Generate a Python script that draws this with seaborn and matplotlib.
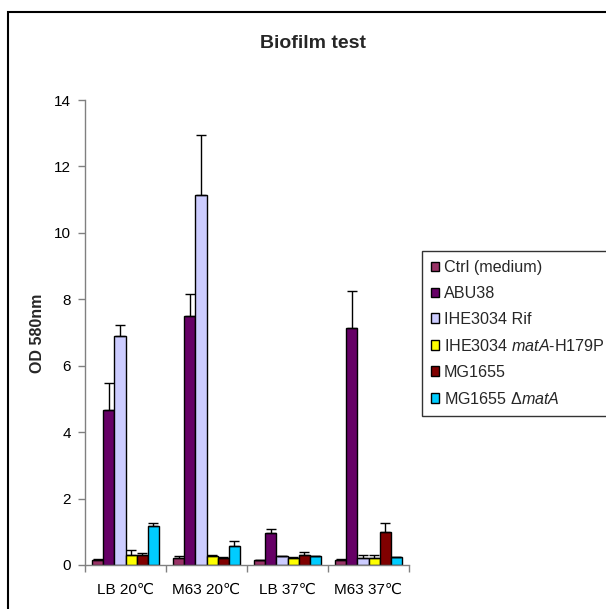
import matplotlib
matplotlib.use("Agg")
import matplotlib.pyplot as plt
import matplotlib.patches as mpatches
import seaborn as sns
import pandas as pd
import numpy as np

conditions = ["LB 20\u2103", "M63 20\u2103", "LB 37\u2103", "M63 37\u2103"]
strains = ["Ctrl (medium)", "ABU38", "IHE3034 Rif",
           r"IHE3034 $\it{matA}$-H179P", "MG1655", r"MG1655 $\it{\Delta matA}$"]
colors = ["#993366", "#660066", "#CCCCFF", "#FFFF00", "#800000", "#00CCFF"]

ctrl_vals = [0.15, 0.20, 0.14, 0.15]
abu_vals = [4.68, 7.50, 0.95, 7.15]
ihe_vals = [6.88, 11.13, 0.26, 0.22]
ihemut_vals = [0.30, 0.28, 0.22, 0.22]
mg_vals = [0.30, 0.21, 0.30, 1.00]
mgdel_vals = [1.18, 0.57, 0.27, 0.23]

ctrl_err = [0.04, 0.06, 0.02, 0.04]
abu_err = [0.80, 0.65, 0.12, 1.10]
ihe_err = [0.36, 1.82, 0.01, 0.09]
ihemut_err = [0.14, 0.02, 0.03, 0.09]
mg_err = [0.06, 0.02, 0.08, 0.26]
mgdel_err = [0.07, 0.14, 0.00, 0.00]

yticks = [0, 2, 4, 6, 8, 10, 12, 14]

sns.set_theme(style="white")
plt.rcParams["font.family"] = ["Liberation Sans", "DejaVu Sans"]
plt.rcParams["mathtext.fontset"] = "custom"
plt.rcParams["mathtext.rm"] = "Liberation Sans"
plt.rcParams["mathtext.it"] = "Liberation Sans:italic"
plt.rcParams["mathtext.bf"] = "Liberation Sans:bold"

all_vals = [ctrl_vals, abu_vals, ihe_vals, ihemut_vals, mg_vals, mgdel_vals]
all_errs = [ctrl_err, abu_err, ihe_err, ihemut_err, mg_err, mgdel_err]
rows = []
for s, vals, errs in zip(strains, all_vals, all_errs):
    for c, v, e in zip(conditions, vals, errs):
        rows.append({"Condition": c, "Strain": s, "OD": v, "err": e})
df = pd.DataFrame(rows)

W, H = 606, 609
fig = plt.figure(figsize=(W / 100, H / 100), dpi=100)
ax = fig.add_axes([85 / W, 1 - 565 / H, (409 - 85) / W, (565 - 100) / H])

sns.barplot(data=df, x="Condition", y="OD", hue="Strain", order=conditions,
            hue_order=strains, palette=colors, errorbar=None, width=0.815,
            edgecolor="black", linewidth=1, saturation=1, ax=ax)

# error bars on top of library-placed bars
for container, s in zip(ax.containers, strains):
    sub = df[df["Strain"] == s].set_index("Condition").loc[conditions]
    xs = [p.get_x() + p.get_width() / 2 for p in container.patches]
    hs = [p.get_height() for p in container.patches]
    ax.errorbar(xs, hs, yerr=[np.zeros(len(xs)), sub["err"].values],
                fmt="none", ecolor="black", elinewidth=1, capsize=3.5,
                capthick=1, zorder=1)

ax.set_xlim(-0.5, 3.5)
ax.set_ylim(0, 14)
ax.set_yticks(yticks)
ax.set_yticklabels([str(t) for t in yticks])
ax.set_xticks(range(len(conditions)))
ax.set_xticklabels(conditions)
ax.set_xticks(np.arange(-0.5, 3.6, 1.0), minor=True)
ax.tick_params(axis="x", which="major", length=0, pad=13, labelsize=11, colors="black")
ax.tick_params(axis="x", which="minor", length=5, width=1, color="#808080", direction="out", bottom=True)
ax.tick_params(axis="y", which="major", length=5, width=1, color="#808080", direction="out",
               left=True, pad=5, labelsize=11, labelcolor="black")
for sp in ["top", "right"]:
    ax.spines[sp].set_visible(False)
for sp in ["left", "bottom"]:
    ax.spines[sp].set_color("#808080")
    ax.spines[sp].set_linewidth(1)
ax.set_xlabel("")
ax.set_ylabel("")

handles, labels = ax.get_legend_handles_labels()
if ax.get_legend() is not None:
    ax.get_legend().remove()
leg = fig.legend(handles, labels, loc="upper left",
                 bbox_to_anchor=(422 / W, 1 - 251 / H), bbox_transform=fig.transFigure,
                 borderaxespad=0, frameon=True, fancybox=False, edgecolor="black",
                 fontsize=11.6, handlelength=0.5, handleheight=0.5,
                 handletextpad=0.3, labelspacing=0.68, borderpad=0.55)
leg.get_frame().set_linewidth(1)

fig.text(313 / W, 1 - 44 / H, "Biofilm test", ha="center", va="center",
         fontsize=14, fontweight="bold")
fig.text(38 / W, 1 - 333 / H, "OD 580nm", ha="center", va="center",
         rotation=90, fontsize=11.5, fontweight="bold")

frame = mpatches.Rectangle((8 / W, -0.1), 1.2, 1.1 - 12 / H, transform=fig.transFigure,
                           fill=False, edgecolor="black", linewidth=1.5, clip_on=False)
fig.patches.append(frame)

fig.savefig("out.png", dpi=100)
